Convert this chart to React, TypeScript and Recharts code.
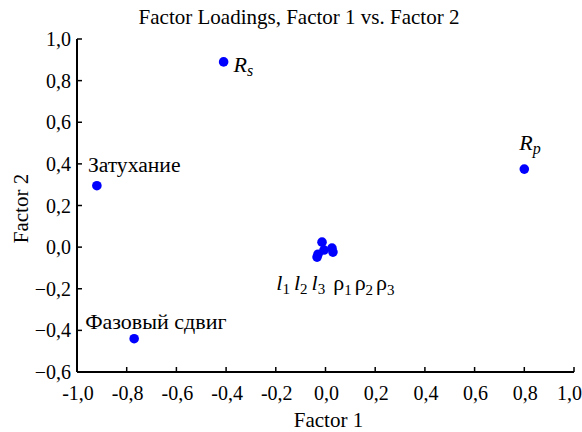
import React from 'react'
import { ScatterChart, Scatter, XAxis, YAxis } from 'recharts'

const xTicks = [-1, -0.8, -0.6, -0.4, -0.2, 0, 0.2, 0.4, 0.6, 0.8, 1]
const yTicks = [-0.6, -0.4, -0.2, 0, 0.2, 0.4, 0.6, 0.8, 1]

// labelled variables
const namedPoints = [
  { x: -0.41, y: 0.89, name: 'Rs' },
  { x: -0.92, y: 0.295, name: 'Затухание' },
  { x: -0.77, y: -0.44, name: 'Фазовый сдвиг' },
  { x: 0.8, y: 0.375, name: 'Rp' },
]

// l1 l2 l3 rho1 rho2 rho3
const clusterPoints = [
  { x: -0.014, y: 0.024 },
  { x: -0.006, y: -0.014 },
  { x: 0.026, y: -0.005 },
  { x: 0.03, y: -0.024 },
  { x: -0.034, y: -0.048 },
  { x: -0.03, y: -0.034 },
]
const clusterLabelAnchor = [{ x: 0.04, y: -0.205 }]

const FONT = 'Liberation Serif'
const BLUE = '#0000ff'

const fmtX = (v: number) => v.toFixed(1).replace('.', ',')
const fmtY = (v: number) => (v < 0 ? '\u2212' : '') + Math.abs(v).toFixed(1).replace('.', ',')

const txt = { fontFamily: FONT }

const BottomTick = (props: any) => {
  const { x, y, payload } = props
  const last = payload.value === 1
  return (
    <g>
      <line x1={x} x2={x} y1={y} y2={y - 5} stroke="#000" strokeWidth={1.5} />
      <text
        x={last ? x + 8 : x + 1}
        y={y + 28}
        textAnchor={last ? 'end' : 'middle'}
        style={txt}
        fontSize={20}
        fill="#000"
      >
        {fmtX(payload.value)}
      </text>
    </g>
  )
}
const TopTick = (props: any) => {
  const { x, y } = props
  return <line x1={x} x2={x} y1={y} y2={y + 5} stroke="#000" strokeWidth={1.5} />
}
const LeftTick = (props: any) => {
  const { x, y, payload } = props
  return (
    <g>
      <line x1={x} x2={x + 5} y1={y} y2={y} stroke="#000" strokeWidth={1.5} />
      <text x={x - 6} y={y + 7} textAnchor="end" style={txt} fontSize={20} fill="#000">
        {fmtY(payload.value)}
      </text>
    </g>
  )
}
const RightTick = (props: any) => {
  const { x, y } = props
  return <line x1={x} x2={x - 5} y1={y} y2={y} stroke="#000" strokeWidth={1.5} />
}

const NamedShape = (props: any) => {
  const { cx, cy, payload } = props
  const name = payload.name
  let label: React.ReactNode = null
  if (name === 'Rs') {
    label = (
      <text x={cx + 10} y={cy + 10} style={txt} fontSize={22} fontStyle="italic">
        R<tspan fontSize={16} dy={4}>s</tspan>
      </text>
    )
  } else if (name === 'Rp') {
    label = (
      <text x={cx - 5} y={cy - 19} style={txt} fontSize={22} fontStyle="italic">
        R<tspan fontSize={16} dy={4}>p</tspan>
      </text>
    )
  } else if (name === 'Затухание') {
    label = (
      <text x={cx - 9} y={cy - 14} style={txt} fontSize={21.6}>
        {name}
      </text>
    )
  } else {
    label = (
      <text x={cx - 49} y={cy - 10} style={txt} fontSize={22}>
        {name}
      </text>
    )
  }
  return (
    <g>
      <circle cx={cx} cy={cy} r={4.8} fill={BLUE} />
      {label}
    </g>
  )
}

const Dot = (props: any) => <circle cx={props.cx} cy={props.cy} r={4.8} fill={BLUE} />

const ClusterLabel = (props: any) => {
  const { cx, cy } = props
  return (
    <text x={cx} y={cy} textAnchor="middle" style={txt} fontSize={22}>
      <tspan fontStyle="italic">l</tspan>
      <tspan fontSize={15} dy={4}>1</tspan>
      <tspan fontStyle="italic" dx={4} dy={-4}>l</tspan>
      <tspan fontSize={15} dy={4}>2</tspan>
      <tspan fontStyle="italic" dx={4} dy={-4}>l</tspan>
      <tspan fontSize={15} dy={4}>3</tspan>
      <tspan dx={8} dy={-4}>ρ</tspan>
      <tspan fontSize={15} dy={5}>1</tspan>
      <tspan dx={3} dy={-5}>ρ</tspan>
      <tspan fontSize={15} dy={5}>2</tspan>
      <tspan dx={3} dy={-5}>ρ</tspan>
      <tspan fontSize={15} dy={5}>3</tspan>
    </text>
  )
}

export default function App() {
  return (
    <div style={{ position: 'absolute', left: 0, top: 0, width: 582, height: 432, background: '#fff' }}>
      <div
        style={{
          position: 'absolute',
          left: 8,
          top: 7,
          width: 582,
          textAlign: 'center',
          fontFamily: FONT,
          fontSize: 21,
          lineHeight: '21px',
          color: '#000',
        }}
      >
        Factor Loadings, Factor 1 vs. Factor 2
      </div>
      <ScatterChart width={582} height={432} margin={{ top: 39, right: 8, bottom: 0, left: 0 }}>
        <XAxis
          xAxisId="b"
          type="number"
          dataKey="x"
          domain={[-1, 1]}
          ticks={xTicks}
          interval={0}
          height={60}
          tickSize={0}
          tickMargin={0}
          tickLine={false}
          axisLine={{ stroke: '#000', strokeWidth: 2 }}
          tick={<BottomTick />}
          label={{ value: 'Factor 1', position: 'insideBottom', offset: 5, dx: 3, style: txt, fontSize: 21, fill: '#000' }}
        />
        <XAxis
          xAxisId="t"
          orientation="top"
          type="number"
          dataKey="x"
          domain={[-1, 1]}
          ticks={xTicks}
          interval={0}
          height={0}
          tickSize={0}
          tickMargin={0}
          tickLine={false}
          axisLine={{ stroke: '#000', strokeWidth: 2 }}
          tick={<TopTick />}
        />
        <YAxis
          yAxisId="l"
          type="number"
          dataKey="y"
          domain={[-0.6, 1]}
          ticks={yTicks}
          interval={0}
          width={77}
          tickSize={0}
          tickMargin={0}
          tickLine={false}
          axisLine={{ stroke: '#000', strokeWidth: 2 }}
          tick={<LeftTick />}
          label={{ value: 'Factor 2', angle: -90, position: 'insideLeft', offset: 21, dy: 3, fontSize: 21, fill: '#000', style: { fontFamily: FONT, textAnchor: 'middle' } }}
        />
        <YAxis
          yAxisId="r"
          orientation="right"
          type="number"
          dataKey="y"
          domain={[-0.6, 1]}
          ticks={yTicks}
          interval={0}
          width={0}
          tickSize={0}
          tickMargin={0}
          tickLine={false}
          axisLine={{ stroke: '#000', strokeWidth: 2 }}
          tick={<RightTick />}
        />
        <Scatter xAxisId="b" yAxisId="l" data={clusterPoints} shape={<Dot />} isAnimationActive={false} />
        <Scatter xAxisId="b" yAxisId="l" data={namedPoints} shape={<NamedShape />} isAnimationActive={false} />
        <Scatter xAxisId="b" yAxisId="l" data={clusterLabelAnchor} shape={<ClusterLabel />} isAnimationActive={false} />
      </ScatterChart>
    </div>
  )
}
